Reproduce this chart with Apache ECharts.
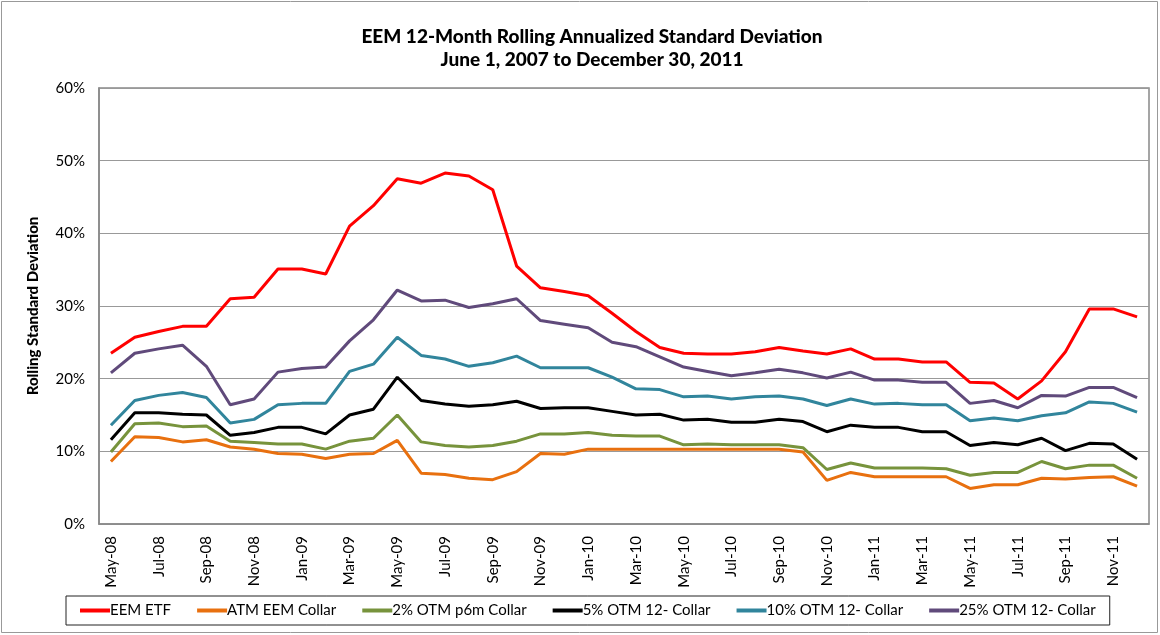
<!DOCTYPE html>
<html>
<head>
<meta charset="utf-8">
<script src="https://cdn.jsdelivr.net/npm/echarts@6/dist/echarts.min.js"></script>
<style>
  html, body { margin: 0; width: 100%; height: 100%; background: #fff; }
  #chart { width: 1160px; height: 635px; }
</style>
</head>
<body>
<div id="chart"></div>
<script>
// months May-08 .. Dec-11
var months = ['May-08','Jun-08','Jul-08','Aug-08','Sep-08','Oct-08','Nov-08','Dec-08',
  'Jan-09','Feb-09','Mar-09','Apr-09','May-09','Jun-09','Jul-09','Aug-09','Sep-09','Oct-09','Nov-09','Dec-09',
  'Jan-10','Feb-10','Mar-10','Apr-10','May-10','Jun-10','Jul-10','Aug-10','Sep-10','Oct-10','Nov-10','Dec-10',
  'Jan-11','Feb-11','Mar-11','Apr-11','May-11','Jun-11','Jul-11','Aug-11','Sep-11','Oct-11','Nov-11','Dec-11'];

var eemEtf = [23.5,25.7,26.5,27.2,27.2,31.0,31.2,35.1,35.1,34.4,41.0,43.8,47.5,46.9,48.3,47.9,46.0,35.5,32.5,32.0,
  31.4,29.0,26.5,24.3,23.5,23.4,23.4,23.7,24.3,23.8,23.4,24.1,22.7,22.7,22.3,22.3,19.5,19.4,17.2,19.7,23.7,29.6,29.6,28.5];
var atmCollar = [8.6,12.0,11.9,11.3,11.6,10.6,10.3,9.7,9.6,9.0,9.6,9.7,11.5,7.0,6.8,6.3,6.1,7.2,9.7,9.6,
  10.3,10.3,10.3,10.3,10.3,10.3,10.3,10.3,10.3,9.9,6.0,7.1,6.5,6.5,6.5,6.5,4.9,5.4,5.4,6.3,6.2,6.4,6.5,5.2];
var otm2 = [9.9,13.8,13.9,13.4,13.5,11.4,11.2,11.0,11.0,10.3,11.4,11.8,15.0,11.3,10.8,10.6,10.8,11.4,12.4,12.4,
  12.6,12.2,12.1,12.1,10.9,11.0,10.9,10.9,10.9,10.5,7.5,8.4,7.7,7.7,7.7,7.6,6.7,7.1,7.1,8.6,7.6,8.1,8.1,6.3];
var otm5 = [11.6,15.3,15.3,15.1,15.0,12.2,12.6,13.3,13.3,12.4,15.0,15.8,20.2,17.0,16.5,16.2,16.4,16.9,15.9,16.0,
  16.0,15.5,15.0,15.1,14.3,14.4,14.0,14.0,14.4,14.1,12.7,13.6,13.3,13.3,12.7,12.7,10.8,11.2,10.9,11.8,10.1,11.1,11.0,8.9];
var otm10 = [13.6,17.0,17.7,18.1,17.4,13.9,14.4,16.4,16.6,16.6,21.0,22.0,25.7,23.2,22.7,21.7,22.2,23.1,21.5,21.5,
  21.5,20.2,18.6,18.5,17.5,17.6,17.2,17.5,17.6,17.2,16.3,17.2,16.5,16.6,16.4,16.4,14.2,14.6,14.2,14.9,15.3,16.8,16.6,15.4];
var otm25 = [20.8,23.5,24.1,24.6,21.7,16.4,17.2,20.9,21.4,21.6,25.2,28.1,32.2,30.7,30.8,29.8,30.3,31.0,28.0,27.5,
  27.0,25.0,24.4,23.0,21.6,21.0,20.4,20.8,21.3,20.8,20.1,20.9,19.8,19.8,19.5,19.5,16.6,17.0,16.0,17.7,17.6,18.8,18.8,17.4];

var yTicks = [0, 10, 20, 30, 40, 50, 60];

var seriesDefs = [
  { name: 'EEM ETF', data: eemEtf, color: '#FF0000' },
  { name: 'ATM EEM Collar', data: atmCollar, color: '#E8700F' },
  { name: '2% OTM p6m Collar', data: otm2, color: '#77933C' },
  { name: '5% OTM 12- Collar', data: otm5, color: '#000000' },
  { name: '10% OTM 12- Collar', data: otm10, color: '#31859C' },
  { name: '25% OTM 12- Collar', data: otm25, color: '#604A7B' }
];

var chart = echarts.init(document.getElementById('chart'));
var font = 'Lato';

chart.setOption({
  animation: false,
  backgroundColor: '#fff',
  title: {
    text: 'EEM 12-Month Rolling Annualized Standard Deviation\nJune 1, 2007 to December 30, 2011',
    left: 587, top: 20, textAlign: 'center',
    textStyle: { fontFamily: font, fontSize: 19, fontWeight: 900, color: '#000', lineHeight: 23 }
  },
  graphic: [{
    type: 'rect', shape: { x: 1.5, y: 1.5, width: 1156, height: 631 },
    style: { fill: 'none', stroke: '#999', lineWidth: 1 }, silent: true
  }],
  legend: {
    left: 66, top: 596,
    itemWidth: 30, itemHeight: 4, itemGap: 26,
    padding: [7, 14, 7, 14],
    borderColor: '#222', borderWidth: 1,
    icon: 'rect',
    textStyle: { fontFamily: font, fontSize: 15, color: '#000', padding: [0, 0, 0, -5] },
    data: seriesDefs.map(function (s) { return s.name; })
  },
  grid: { left: 99, right: 11, top: 88, bottom: 111, show: true, borderColor: '#888', borderWidth: 1.5 },
  xAxis: {
    type: 'category', data: months, boundaryGap: true,
    axisLine: { lineStyle: { color: '#888', width: 1.5 } },
    axisTick: { show: false },
    axisLabel: { rotate: 90, interval: 1, fontFamily: font, fontSize: 15, color: '#000', margin: 12 }
  },
  yAxis: {
    type: 'value', min: yTicks[0], max: yTicks[yTicks.length - 1], interval: 10,
    name: 'Rolling Standard Deviation', nameLocation: 'middle', nameGap: 58,
    nameTextStyle: { fontFamily: font, fontSize: 15, fontWeight: 900, color: '#000' },
    axisLine: { show: true, lineStyle: { color: '#888', width: 1.5 } },
    axisTick: { show: false },
    splitLine: { lineStyle: { color: '#999', width: 1.2 } },
    axisLabel: { formatter: '{value}%', fontFamily: font, fontSize: 15, color: '#000', margin: 14 }
  },
  series: seriesDefs.map(function (s) {
    return {
      name: s.name, type: 'line', data: s.data, symbol: 'none',
      lineStyle: { color: s.color, width: 3 }, itemStyle: { color: s.color }
    };
  })
});
</script>
</body>
</html>
